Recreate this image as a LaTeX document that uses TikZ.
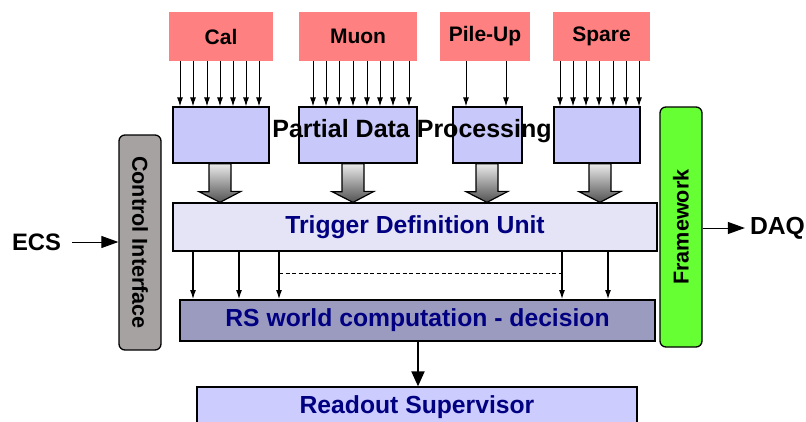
\documentclass[tikz,border=0pt]{standalone}
\usepackage{fontspec}
\setmainfont{Liberation Sans}
\usetikzlibrary{arrows.meta}
\definecolor{redbox}{RGB}{255,128,128}
\definecolor{pdpblue}{RGB}{200,200,250}
\definecolor{tdufill}{RGB}{228,228,246}
\definecolor{rsfill}{RGB}{155,155,192}
\definecolor{rofill}{RGB}{204,204,255}
\definecolor{cigray}{RGB}{166,162,162}
\definecolor{fwgreen}{RGB}{102,255,51}
\definecolor{navy}{RGB}{0,0,128}
\begin{document}
\begin{tikzpicture}[x=1pt,y=-1pt,
  srcbox/.style={fill=redbox, minimum height=49pt, inner sep=0pt, font=\bfseries\fontsize{21}{24}\selectfont},
  pdpbox/.style={draw, line width=1.3pt, fill=pdpblue, minimum height=56pt, inner sep=0pt},
  bigtext/.style={font=\bfseries\fontsize{24.7}{28}\selectfont},
  sidebox/.style={draw, line width=1.3pt, rounded corners=6pt, inner sep=0pt, font=\bfseries\fontsize{21.6}{24}\selectfont},
  thinarr/.style={-{Latex[length=9pt,width=6pt]}, line width=1pt},
  midarr/.style={-{Triangle[length=17pt,width=12pt]}, line width=0.9pt},
  blockarr/.style={draw, line width=1.2pt, top color=black!8, bottom color=black!68}
]
\useasboundingbox (0,0) rectangle (806,421);

% source boxes
\node[srcbox, minimum width=104pt] (cal) at (221,36.5) {Cal};
\node[srcbox, minimum width=118pt] (muon) at (358,36.5) {Muon};
\node[srcbox, minimum width=90pt] (pile) at (485,36.5) {Pile-Up};
\node[srcbox, minimum width=97pt] (spare) at (601.5,36.5) {Spare};

% partial data processing boxes
\node[pdpbox, minimum width=96pt] (p1) at (221,135) {};
\node[pdpbox, minimum width=118pt] (p2) at (358,135) {};
\node[pdpbox, minimum width=69pt] (p3) at (487.5,135) {};
\node[pdpbox, minimum width=86pt] (p4) at (597,135) {};
\node[font=\bfseries\fontsize{25}{28}\selectfont, inner sep=0pt] (pdptxt) at (412,131) {Partial Data Processing};

% thin input arrows
\foreach \x in {180,193,207,220,233,246,259}
  \draw[thinarr] (cal.south -| \x,0) -- (p1.north -| \x,0);
\foreach \x in {313,326,339,353,367,380,393,409}
  \draw[thinarr] (muon.south -| \x,0) -- (p2.north -| \x,0);
\foreach \x in {466,506}
  \draw[thinarr] (pile.south -| \x,0) -- (p3.north -| \x,0);
\foreach \x in {560,573,586,599,613,626,639}
  \draw[thinarr] (spare.south -| \x,0) -- (p4.north -| \x,0);

% trigger definition unit
\node[draw, line width=1.3pt, fill=tdufill, minimum width=484pt, minimum height=48pt, inner sep=0pt, bigtext, text=navy] (tdu) at (415,227) {Trigger Definition Unit};

% block arrows
\foreach \n/\cx in {p1/220,p2/353,p3/487,p4/600}
  \path[blockarr] (\n.south -| \cx-11,0) -- ++(0,28) -- ++(-10,0) -- (tdu.north -| \cx,0) -- ++(21,-11) -- ++(-10,0) -- (\n.south -| \cx+11,0) -- cycle;

% RS world computation
\node[draw, line width=1.8pt, fill=rsfill, minimum width=475pt, minimum height=41pt, inner sep=0pt, bigtext, text=navy] (rs) at (417.5,320.5) {RS world computation - decision};

\foreach \x in {193,239,279,562,608}
  \draw[thinarr, line width=1.2pt] (tdu.south -| \x,0) -- (rs.north -| \x,0);
\path (tdu.south -| 279,0) -- (rs.north -| 279,0) coordinate[pos=0.46] (dl);
\path (tdu.south -| 562,0) -- (rs.north -| 562,0) coordinate[pos=0.46] (dr);
\draw[line width=0.7pt, dash pattern=on 4pt off 2.5pt] (dl) -- (dr);

% readout supervisor
\node[draw, line width=1.3pt, fill=rofill, minimum width=440pt, minimum height=40pt, inner sep=0pt, bigtext, text=navy] (ro) at (417,407) {Readout Supervisor};
\draw[-{Triangle[length=15pt,width=13pt]}, line width=2pt] (rs.south -| 418,0) -- (ro.north -| 418,0);

% side boxes
\node[sidebox, fill=cigray, rotate=-90, minimum width=215pt, minimum height=42pt] (ci) at (140,242.5) {Control Interface};
\node[sidebox, fill=fwgreen, rotate=90, minimum width=240pt, minimum height=42pt] (fw) at (681,227) {Framework};

\node[font=\bfseries\fontsize{23.8}{27}\selectfont, inner sep=0pt] (ecs) at (36.5,242) {ECS};
\draw[midarr] ([xshift=11pt]ecs.east) -- (ci.south |- ecs.east);

\node[bigtext, inner sep=0pt] (daq) at (777.5,228) {DAQ};
\draw[midarr] (fw.south |- daq.west) -- ([xshift=-5pt]daq.west);
\end{tikzpicture}
\end{document}
